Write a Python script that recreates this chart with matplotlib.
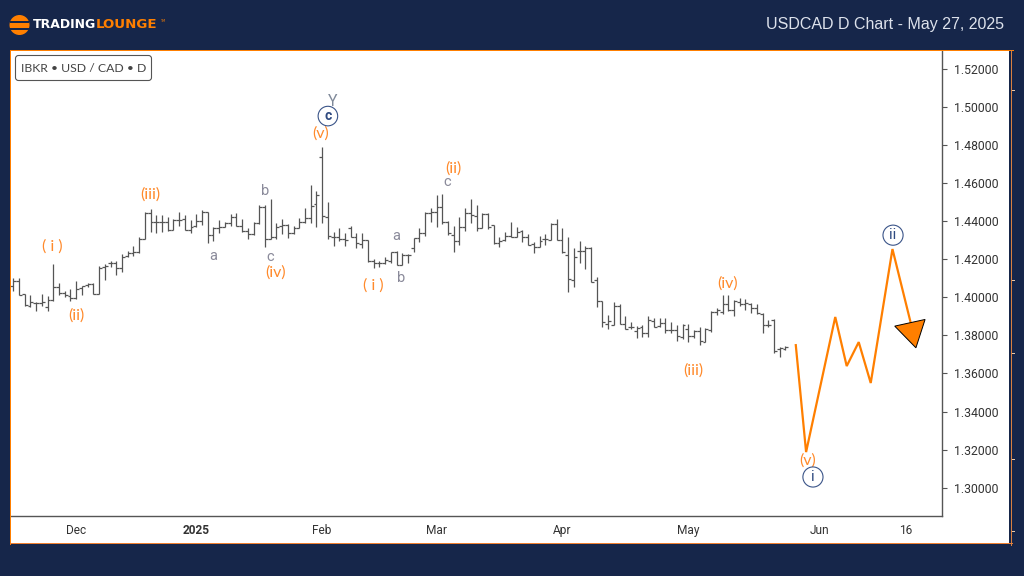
import numpy as np
import matplotlib
matplotlib.use('Agg')
import matplotlib.pyplot as plt
from matplotlib.patches import Rectangle, Circle, FancyBboxPatch, Polygon

# daily bars
opens = [1.4060, 1.4088, 1.4017, 1.3955, 1.3973, 1.3970, 1.3949, 1.3987, 1.4053, 1.4025, 1.4008, 1.3996, 1.4048, 1.4064, 1.4071, 1.4020, 1.4159, 1.4179, 1.4183, 1.4155,
         1.4218, 1.4232, 1.4237, 1.4305, 1.4444, 1.4395, 1.4395, 1.4395, 1.4353, 1.4407, 1.4410, 1.4353, 1.4376, 1.4402, 1.4449, 1.4328, 1.4363, 1.4372, 1.4390, 1.4425,
         1.4377, 1.4350, 1.4334, 1.4390, 1.4474, 1.4307, 1.4318, 1.4376, 1.4379, 1.4337, 1.4367, 1.4396, 1.4416, 1.4489, 1.4736, 1.4425, 1.4319, 1.4316, 1.4305, 1.4363,
         1.4316, 1.4281, 1.4302, 1.4191, 1.4179, 1.4179, 1.4193, 1.4240, 1.4172, 1.4223, 1.4261, 1.4310, 1.4340, 1.4442, 1.4450, 1.4477, 1.4394, 1.4328, 1.4298, 1.4371,
         1.4442, 1.4429, 1.4363, 1.4438, 1.4379, 1.4284, 1.4300, 1.4324, 1.4319, 1.4351, 1.4316, 1.4280, 1.4263, 1.4305, 1.4302, 1.4384, 1.4302, 1.4223, 1.4092, 1.4245,
         1.4242, 1.4260, 1.4092, 1.3980, 1.3859, 1.3854, 1.3953, 1.3859, 1.3843, 1.3822, 1.3846, 1.3815, 1.3878, 1.3850, 1.3864, 1.3829, 1.3829, 1.3794, 1.3832, 1.3799,
         1.3824, 1.3764, 1.3826, 1.3922, 1.3922, 1.3966, 1.3934, 1.3978, 1.3964, 1.3964, 1.3943, 1.3913, 1.3855, 1.3882, 1.3728, 1.3728]
highs = [1.4101, 1.4101, 1.4018, 1.4013, 1.3976, 1.4018, 1.4008, 1.4176, 1.4078, 1.4031, 1.4045, 1.4087, 1.4060, 1.4078, 1.4074, 1.4165, 1.4174, 1.4192, 1.4192, 1.4228,
         1.4244, 1.4270, 1.4319, 1.4447, 1.4463, 1.4431, 1.4433, 1.4424, 1.4412, 1.4447, 1.4433, 1.4407, 1.4437, 1.4460, 1.4449, 1.4369, 1.4407, 1.4398, 1.4437, 1.4442,
         1.4410, 1.4363, 1.4395, 1.4484, 1.4486, 1.4516, 1.4390, 1.4410, 1.4386, 1.4376, 1.4416, 1.4468, 1.4589, 1.4558, 1.4789, 1.4503, 1.4342, 1.4363, 1.4340, 1.4375,
         1.4336, 1.4336, 1.4302, 1.4202, 1.4191, 1.4211, 1.4240, 1.4244, 1.4232, 1.4228, 1.4310, 1.4363, 1.4450, 1.4468, 1.4538, 1.4543, 1.4401, 1.4375, 1.4424, 1.4468,
         1.4515, 1.4485, 1.4445, 1.4441, 1.4380, 1.4316, 1.4345, 1.4398, 1.4368, 1.4354, 1.4333, 1.4293, 1.4324, 1.4333, 1.4392, 1.4410, 1.4363, 1.4316, 1.4258, 1.4296,
         1.4270, 1.4263, 1.4106, 1.3983, 1.3908, 1.3974, 1.3966, 1.3903, 1.3869, 1.3850, 1.3855, 1.3902, 1.3890, 1.3890, 1.3890, 1.3873, 1.3855, 1.3860, 1.3859, 1.3826,
         1.3846, 1.3838, 1.3930, 1.3946, 1.4013, 1.4013, 1.3987, 1.3999, 1.3992, 1.3969, 1.3964, 1.3917, 1.3882, 1.3885, 1.3738, 1.3745]
lows = [1.4036, 1.4010, 1.3955, 1.3952, 1.3931, 1.3957, 1.3931, 1.3983, 1.4010, 1.4004, 1.3983, 1.3994, 1.4010, 1.4052, 1.4017, 1.4018, 1.4094, 1.4159, 1.4120, 1.4131,
        1.4211, 1.4220, 1.4232, 1.4305, 1.4346, 1.4337, 1.4346, 1.4350, 1.4353, 1.4377, 1.4353, 1.4340, 1.4372, 1.4383, 1.4285, 1.4299, 1.4340, 1.4369, 1.4377, 1.4377,
        1.4346, 1.4306, 1.4328, 1.4386, 1.4264, 1.4307, 1.4306, 1.4334, 1.4314, 1.4334, 1.4363, 1.4393, 1.4390, 1.4372, 1.4390, 1.4306, 1.4272, 1.4298, 1.4272, 1.4316,
        1.4258, 1.4258, 1.4188, 1.4153, 1.4161, 1.4176, 1.4182, 1.4168, 1.4170, 1.4182, 1.4240, 1.4293, 1.4324, 1.4394, 1.4368, 1.4386, 1.4328, 1.4240, 1.4275, 1.4351,
        1.4389, 1.4351, 1.4363, 1.4358, 1.4280, 1.4266, 1.4298, 1.4316, 1.4316, 1.4289, 1.4275, 1.4235, 1.4263, 1.4275, 1.4302, 1.4302, 1.4232, 1.4030, 1.4057, 1.4179,
        1.4148, 1.4079, 1.3952, 1.3843, 1.3833, 1.3854, 1.3859, 1.3833, 1.3833, 1.3785, 1.3794, 1.3794, 1.3843, 1.3846, 1.3812, 1.3812, 1.3773, 1.3780, 1.3764, 1.3785,
        1.3750, 1.3764, 1.3817, 1.3908, 1.3913, 1.3930, 1.3904, 1.3957, 1.3934, 1.3920, 1.3913, 1.3815, 1.3843, 1.3710, 1.3689, 1.3724]
closes = [1.4088, 1.4010, 1.3959, 1.3976, 1.3970, 1.3978, 1.3987, 1.4053, 1.4025, 1.4010, 1.3997, 1.4045, 1.4060, 1.4071, 1.4020, 1.4157, 1.4167, 1.4183, 1.4155, 1.4213,
          1.4232, 1.4237, 1.4305, 1.4444, 1.4395, 1.4395, 1.4395, 1.4353, 1.4407, 1.4407, 1.4353, 1.4372, 1.4402, 1.4451, 1.4328, 1.4363, 1.4372, 1.4390, 1.4425, 1.4377,
          1.4350, 1.4334, 1.4390, 1.4474, 1.4307, 1.4318, 1.4372, 1.4379, 1.4337, 1.4367, 1.4398, 1.4416, 1.4481, 1.4538, 1.4428, 1.4323, 1.4316, 1.4305, 1.4302, 1.4316,
          1.4284, 1.4302, 1.4191, 1.4179, 1.4179, 1.4196, 1.4237, 1.4172, 1.4223, 1.4223, 1.4310, 1.4340, 1.4442, 1.4450, 1.4477, 1.4394, 1.4336, 1.4298, 1.4371, 1.4442,
          1.4431, 1.4363, 1.4438, 1.4368, 1.4284, 1.4296, 1.4323, 1.4319, 1.4342, 1.4316, 1.4275, 1.4263, 1.4298, 1.4305, 1.4384, 1.4302, 1.4237, 1.4095, 1.4210, 1.4245,
          1.4260, 1.4079, 1.3980, 1.3869, 1.3878, 1.3953, 1.3859, 1.3833, 1.3845, 1.3840, 1.3815, 1.3882, 1.3846, 1.3864, 1.3826, 1.3829, 1.3797, 1.3855, 1.3797, 1.3824,
          1.3773, 1.3834, 1.3925, 1.3934, 1.3966, 1.3934, 1.3981, 1.3964, 1.3969, 1.3943, 1.3917, 1.3855, 1.3855, 1.3719, 1.3733, 1.3738]

# projected path and the arrow head at its end
forecast_x = [136.8, 138.6, 143.7, 145.7, 147.8, 149.9, 153.7, 156.9]
forecast_y = [1.3749, 1.3187, 1.3897, 1.3639, 1.3765, 1.3550, 1.4254, 1.3865]
arrow_x = [154.1, 159.4, 157.8]
arrow_y = [1.3849, 1.3884, 1.3735]

# wave counts: (text, bar, price)
orange_labels = [('( i )', 6.9, 1.4265), ('(ii)', 11, 1.3907), ('(iii)', 23.9, 1.4543), ('(iv)', 45.9, 1.4133),
                 ('(v)', 53.8, 1.4859), ('( i )', 62.9, 1.4060), ('(ii)', 77, 1.4675), ('(iii)', 118.8, 1.3618),
                 ('(iv)', 124.8, 1.4075), ('(v)', 138.8, 1.3140)]
grey_labels = [('a', 34.9, 1.4217), ('b', 44, 1.4559), ('c', 44.9, 1.4212), ('a', 66.9, 1.4322),
               ('b', 67.8, 1.4101), ('c', 75.8, 1.4608)]
circled_labels = [('c', 55, 1.4953), ('i', 139.8, 1.3056), ('ii', 153.8, 1.4327)]

y_ticks = [1.30, 1.32, 1.34, 1.36, 1.38, 1.40, 1.42, 1.44, 1.46, 1.48, 1.50, 1.52]
x_ticks = [11, 32, 54, 74, 96, 118, 141, 156]
x_labels = ['Dec', '2025', 'Feb', 'Mar', 'Apr', 'May', 'Jun', '16']

NAVY = '#16264A'
ORANGE = '#FF7F00'
TEXT_ORANGE = '#FF8A2B'
BAR_GREY = '#555555'
W, H = 1024, 576


def ax_rect(left, top, right, bottom):
    return [left / W, 1 - bottom / H, (right - left) / W, (bottom - top) / H]


def pixel_axes(zorder):
    pax = fig.add_axes([0, 0, 1, 1], zorder=zorder)
    pax.set_xlim(0, W)
    pax.set_ylim(H, 0)
    pax.axis('off')
    return pax


fig = plt.figure(figsize=(10.24, 5.76), dpi=100, facecolor=NAVY)

# white panel, logo and title sit behind the chart
bg = pixel_axes(0)
bg.add_patch(Rectangle((10, 50), 999, 493, fc='white', ec='none'))
bg.add_patch(Circle((19.5, 25), 10, fc=ORANGE, ec='none'))
for yy in [21.5, 28.5]:
    bg.add_patch(Rectangle((10, yy - 1), 19, 2, fc=NAVY, ec='none'))
bg.text(33, 25, 'TRADING', color='white', fontsize=9, fontweight='bold', family='DejaVu Sans', va='center', ha='left')
bg.text(96, 25, 'LOUNGE', color=ORANGE, fontsize=9.6, fontweight='bold', family='DejaVu Sans', va='center', ha='left')
bg.text(160, 21, 'TM', color=ORANGE, fontsize=2.5, va='center', ha='left')
bg.text(1004, 24, 'USDCAD D Chart - May 27, 2025', color='#DDE2EC', fontsize=11.5, family='Liberation Sans', va='center', ha='right')

# price axes
ax = fig.add_axes(ax_rect(11, 51, 942, 516), zorder=1, facecolor='white')
ax.set_xlim(-0.4, 162.36)
ax.set_ylim(1.2851, 1.5295)

bars = np.arange(len(opens))
ax.vlines(bars, lows, highs, color=BAR_GREY, lw=0.9)
ax.hlines(opens, bars - 0.5, bars, color=BAR_GREY, lw=0.9)
ax.hlines(closes, bars, bars + 0.5, color=BAR_GREY, lw=0.9)

ax.plot(forecast_x, forecast_y, color=ORANGE, lw=1.6, solid_joinstyle='miter')
ax.add_patch(Polygon(np.column_stack([arrow_x, arrow_y]), closed=True, fc=ORANGE, ec='black', lw=0.7, zorder=4))

for txt, bx, price in orange_labels:
    ax.text(bx, price, txt, color=TEXT_ORANGE, fontsize=11.5, family='Lato', ha='center', va='center')
for txt, bx, price in grey_labels:
    ax.text(bx, price, txt, color='#8A8A9A', fontsize=10.5, family='Roboto', ha='center', va='center')
for txt, bx, price in circled_labels:
    ax.text(bx, price, txt, color='#2F4A80', fontsize=10 if txt == 'c' else 11, family='Roboto', ha='center', va='center',
            fontweight='bold' if txt == 'c' else 'normal',
            bbox=dict(boxstyle='circle,pad=0.2', fc='white', ec='#3A5488', lw=0.8))
ax.text(55.9, 1.5032, 'Y', color='#808A9A', fontsize=11.5, family='Roboto', ha='center', va='center')

for side in ['top', 'left']:
    ax.spines[side].set_visible(False)
for side in ['right', 'bottom']:
    ax.spines[side].set_color(BAR_GREY)
    ax.spines[side].set_linewidth(1)

ax.yaxis.tick_right()
ax.set_yticks(y_ticks)
ax.set_yticklabels([f'{v:.5f}' for v in y_ticks], fontsize=8.8, family='Roboto', color='#333333')
ax.tick_params(axis='y', length=3.5, width=0.8, color=BAR_GREY, pad=5)
ax.set_xticks(x_ticks)
ax.set_xticklabels(x_labels, fontsize=8.6, family='Roboto', color='#333333')
ax.tick_params(axis='x', length=0, pad=6)
ax.get_xticklabels()[1].set_fontweight('bold')

# orange frame and instrument tag go on top
fg = pixel_axes(5)
fg.add_patch(Rectangle((10, 50), 1, 495, fc=ORANGE, ec='none'))
fg.add_patch(Rectangle((10, 50), 1004, 1, fc=ORANGE, ec='none'))
fg.add_patch(Rectangle((10, 543), 1003, 1, fc='#F08030', ec='none'))
fg.add_patch(Rectangle((1011, 50), 1, 496, fc='#D98040', ec='none'))
for yy in [90, 280, 353, 459, 531]:
    fg.add_patch(Rectangle((1012, yy), 3, 1, fc='#E8C8A8', ec='none'))
fg.add_patch(FancyBboxPatch((15.5, 55.5), 136, 25, boxstyle='round,pad=0,rounding_size=3', fc='white', ec=BAR_GREY, lw=0.8))
fg.text(84, 68, 'IBKR • USD / CAD • D', color='#444444', fontsize=8.8, family='Lato', ha='center', va='center')

fig.savefig('out.png', dpi=100, facecolor=NAVY)
